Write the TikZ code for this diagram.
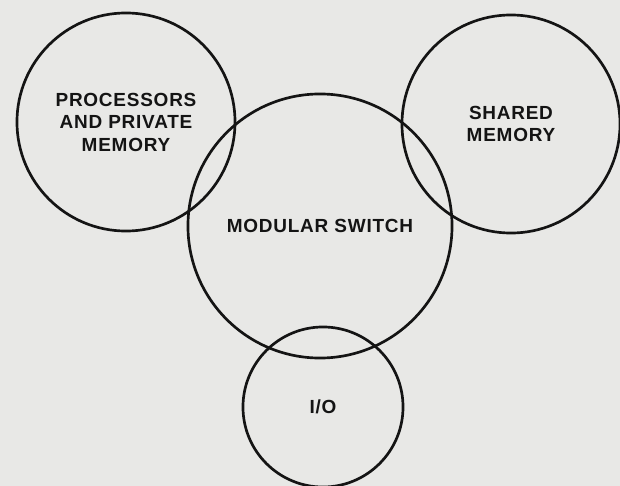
\documentclass[tikz,border=0pt]{standalone}
\usepackage{fontspec}
\setmainfont[LetterSpace=4]{Liberation Sans}
\definecolor{paper}{RGB}{232,232,230}
\definecolor{ink}{RGB}{20,20,20}

\begin{document}
\begin{tikzpicture}[x=0.025cm,y=-0.025cm,
		part/.style={circle, draw=ink, line width=1.9pt, inner sep=0pt, align=center,
			text=ink, font=\bfseries\fontsize{13.5}{16}\selectfont},
		big/.style={part, minimum size=6.6cm},
		mid/.style={part, minimum size=5.45cm},
		small/.style={part, minimum size=4cm}
	]
	
	\fill[paper] (0,0) rectangle (620,486);
	\useasboundingbox (0,0) rectangle (620,486);
	
	\node[big] (switch) at (320,226) {MODULAR SWITCH};
	\node[mid] (proc) at (126,122) {PROCESSORS\\AND PRIVATE\\MEMORY};
	\node[mid] (shmem) at (511,124) {SHARED\\MEMORY};
	\node[small] (io) at (323,407) {I/O};
\end{tikzpicture}
\end{document}
